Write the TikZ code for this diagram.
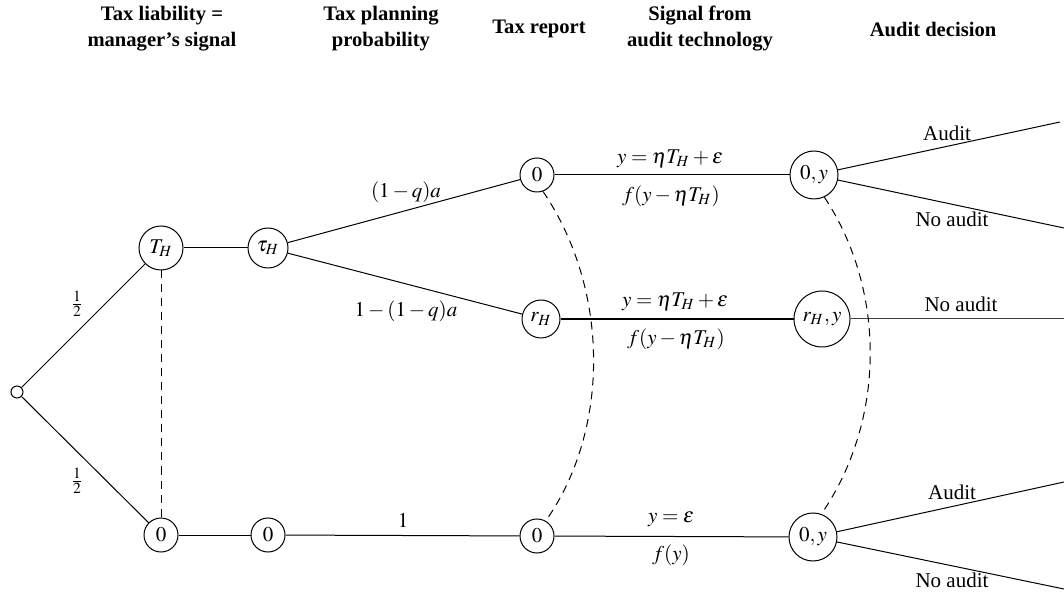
\documentclass[tikz,border=0pt]{standalone}
\usepackage{mathptmx}
\usepackage{fontspec}
\setmainfont{Liberation Serif}
\begin{document}
\begin{tikzpicture}[x=0.5pt,y=-0.5pt,
  every node/.style={font=\fontsize{10.5}{12.5}\selectfont},
  st/.style={draw,circle,inner sep=0pt,line width=0.5pt},
  hdr/.style={font=\fontsize{10.3}{13}\selectfont\bfseries,align=center},
  edge/.style={line width=0.5pt},
  info/.style={dashed,line width=0.5pt,dash pattern=on 4pt off 3pt}]
\useasboundingbox (0,0) rectangle (1064,592);
% headers
\node[hdr] (h1) at (162,29) {Tax liability =\\manager’s signal};
\node[hdr] (h2) at (381,29) {Tax planning\\probability};
\node[hdr] (h3) at (539,29) {Tax report};
\node[hdr] (h4) at (700,29) {Signal from\\audit technology};
\node[hdr] (h5) at (933,29) {Audit decision};
% nodes
\node[st,minimum size=6pt] (root) at (17,392) {};
\node[st,minimum size=22pt] (TH) at (161,248) {$T_H$};
\node[st,minimum size=17pt] (Z1) at (161,535) {$0$};
\node[st,minimum size=20pt] (tau) at (268,248) {$\tau_H$};
\node[st,minimum size=17pt] (Z2) at (268,535) {$0$};
\node[st,minimum size=17pt] (R0) at (537,175) {$0$};
\node[st,minimum size=19pt] (RH) at (541,319) {$r_H$};
\node[st,minimum size=17pt] (RB) at (537,536) {$0$};
\node[st,minimum size=24pt] (S1) at (814,175) {$0,y$};
\node[st,minimum size=28pt] (S2) at (822,319) {$r_H,y$};
\node[st,minimum size=24pt] (S3) at (813,537) {$0,y$};
\coordinate (e1) at (1060,122);
\coordinate (e2) at (1064,228);
\coordinate (e3) at (1064,319);
\coordinate (e4) at (1064,482);
\coordinate (e5) at (1064,589);
% edges
\draw[edge] (root) -- (TH);
\draw[edge] (root) -- (Z1);
\draw[edge] (TH) -- (tau);
\draw[edge] (Z1) -- (Z2);
\draw[edge] (tau) -- (R0);
\draw[edge] (tau) -- (RH);
\draw[edge] (Z2) -- (RB);
\draw[edge] (R0) -- (S1);
\draw[edge,line width=0.75pt] (RH) -- (S2);
\draw[edge] (RB) -- (S3);
\draw[edge] (S1) -- (e1);
\draw[edge] (S1) -- (e2);
\draw[edge,draw=black!75] (S2) -- (e3);
\draw[edge] (S3) -- (e4);
\draw[edge] (S3) -- (e5);
% information sets
\draw[info] (TH) -- (Z1);
\draw[info] (R0.-70) .. controls (610,290) and (610,430) .. (RB.60);
\draw[info] (S1.-65) .. controls (886,290) and (886,420) .. (S3.70);
% labels
\node (l1a) at (77,304) {$\frac{1}{2}$};
\node (l1b) at (77,481) {$\frac{1}{2}$};
\node (l2a) at (406,192) {$(1-q)a$};
\node (l2b) at (406,311) {$1-(1-q)a$};
\node (l2c) at (403,520) {$1$};
\node (l3a) at (670,159) {$y=\eta T_H+\varepsilon$};
\node (l3b) at (671,196) {$f(y-\eta T_H)$};
\node (l3c) at (675,302) {$y=\eta T_H+\varepsilon$};
\node (l3d) at (676,339) {$f(y-\eta T_H)$};
\node (l3e) at (671,519) {$y=\varepsilon$};
\node (l3f) at (671,555) {$f(y)$};
\node (a1) at (947,133) {Audit};
\node (a2) at (952,219) {No audit};
\node (a3) at (961,304) {No audit};
\node (a4) at (952,492) {Audit};
\node (a5) at (952,580) {No audit};
\end{tikzpicture}
\end{document}
